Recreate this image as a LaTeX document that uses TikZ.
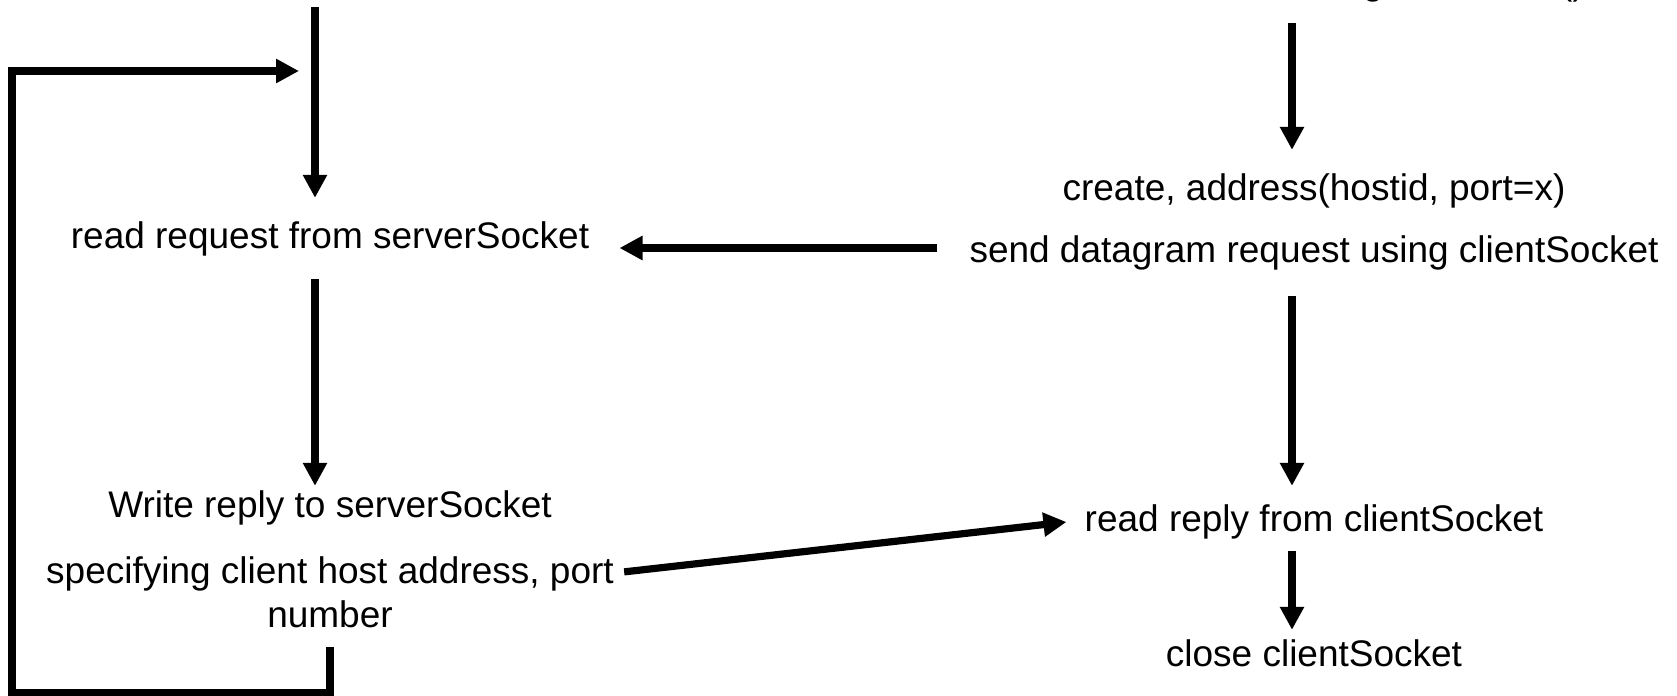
\documentclass[tikz,border=0pt]{standalone}
\usepackage{fontspec}
\setmainfont{Liberation Sans}
\usetikzlibrary{arrows.meta,calc}

\begin{document}
\begin{tikzpicture}[x=0.5pt,y=-0.5pt]
      \tikzstyle{action} = [font=\fontsize{18.5pt}{22pt}\selectfont,inner sep=0pt,anchor=base]
      \tikzstyle{flow} = [line width=3.6pt,line join=miter,-{Triangle[length=11.5pt,width=11.5pt]}]
      %
      \useasboundingbox (0,0) rectangle (1677,696);
      % Columns of the arrows.
      \coordinate (srv) at (315,0);
      \coordinate (cli) at (1292,0);
      \coordinate (srvtop) at (315,7);
      \coordinate (clitop) at (1292,23);
      \coordinate (loopbot) at (12,693);
      \coordinate (loopin) at (299,71);

      % Server side.
      \node[action] (readreq) at (330,248) {read request from serverSocket};
      \node[action] (writerep) at (330,517) {Write reply to serverSocket};
      \node[action] (spec) at (330,583) {specifying client host address, port};
      \node[action] (specnum) at (330,627) {number};

      % Client side.
      \node[action] (mksock) at (1314,-5) {clientSocket = DatagramSocket()};
      \node[action] (mkaddr) at (1314,200) {create, address(hostid, port=x)};
      \node[action] (sendreq) at (1314,262) {send datagram request using clientSocket};
      \node[action] (readrep) at (1314,531) {read reply from clientSocket};
      \node[action] (closesock) at (1314,666) {close clientSocket};

      % Server arrows and the loop.
      \draw[flow,shorten >=11.5pt] (srvtop) -- (srv |- readreq.north);
      \draw[flow,shorten <=11.5pt,shorten >=2pt] (srv |- readreq.south) -- (srv |- writerep.north);
      \draw[flow] ($(specnum.south)+(0,19)$) |- (loopbot) |- (loopin);

      % Client arrows.
      \draw[flow,shorten >=11.5pt] (clitop) -- (cli |- mkaddr.north);
      \draw[flow,shorten <=13pt,shorten >=9pt] (cli |- sendreq.south) -- (cli |- readrep.north);
      \draw[flow,shorten <=6pt,shorten >=4.5pt] (cli |- readrep.south) -- (cli |- closesock.north);

      % Messages between the two sides.
      \draw[flow,shorten <=16pt,shorten >=15pt] ($(sendreq.base west)+(0,-14)$) -- ($(sendreq.base west -| readreq.base east)+(0,-14)$);
      \draw[flow,shorten <=5pt,shorten >=9pt] ($(spec.base east)+(0,-10)$) -- ($(readrep.base west)+(0,-11)$);
\end{tikzpicture}
\end{document}
